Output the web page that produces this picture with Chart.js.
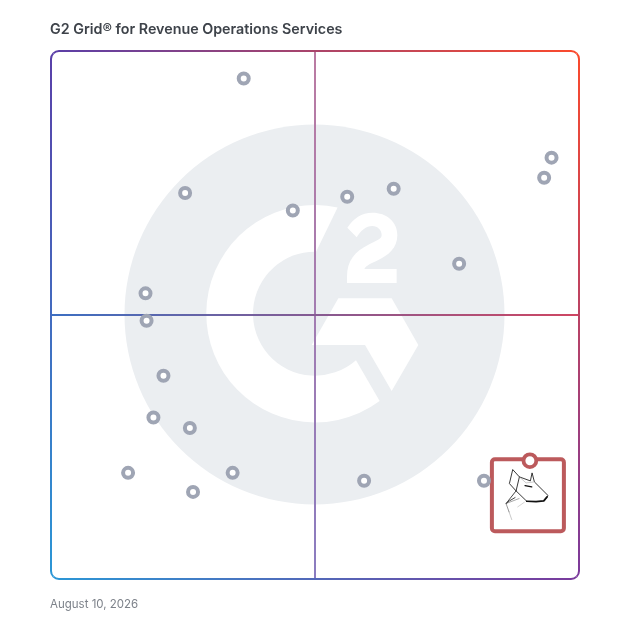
<!DOCTYPE html>
<html>
<head>
<meta charset="utf-8">
<title>G2 Grid</title>
<script src="https://cdn.jsdelivr.net/npm/chart.js@4"></script>
<style>
  html, body { margin: 0; padding: 0; background: #fff; }
  #wrap { position: relative; width: 628px; height: 628px; overflow: hidden; font-family: Inter, sans-serif; }
  #gridChart { position: absolute; left: 0; top: 0; }
  #title { position: absolute; left: 50px; top: 20px; font-size: 14.3px; font-weight: 600; color: #3e434a; white-space: nowrap; }
  #date { position: absolute; left: 50px; top: 597px; font-size: 11.5px; color: #7d828a; white-space: nowrap; }
</style>
</head>
<body>
<div id="wrap">
  <canvas id="gridChart" width="628" height="628"></canvas>
  <div id="title">G2 Grid® for Revenue Operations Services</div>
  <div id="date">August 10, 2026</div>
</div>
<script>
const satisfaction = [36.5, 94.8, 93.4, 64.9, 56.1, 25.4, 45.8, 77.3, 17.9, 18.1, 21.3, 19.4, 26.3, 14.6, 26.9, 34.4, 59.3, 82.0];
const marketPresence = [94.8, 79.8, 76.0, 73.9, 72.4, 73.1, 69.8, 59.7, 54.1, 48.9, 38.5, 30.6, 28.6, 20.1, 16.5, 20.1, 18.6, 18.6];
const highlightX = [90.7];
const highlightY = [22.4];

const GRAY = '#9fa5b4';
const RED = '#bc5a5c';
const WATERMARK = '#ebeef1';

function lineGradient(chart, axis) {
    const a = chart.chartArea;
    if (!a) return 'transparent';
    const g = axis === 'x'
        ? chart.ctx.createLinearGradient(0, a.top, 0, a.bottom)
        : chart.ctx.createLinearGradient(a.left, 0, a.right, 0);
    if (axis === 'x') {
        g.addColorStop(0, '#bb7ba2');
        g.addColorStop(1, '#8a7cc0');
    } else {
        g.addColorStop(0, '#3c6fc2');
        g.addColorStop(1, '#cf4662');
    }
    return g;
}

// G2 logo, path numbers are relative to the middle of the grid
const watermark = {
    id: 'watermark',
    beforeDraw(chart) {
        const { ctx, chartArea: a } = chart;
        const cx = (a.left + a.right) / 2, cy = (a.top + a.bottom) / 2;
        const rad = d => d * Math.PI / 180;
        ctx.save();
        ctx.translate(cx, cy);
        ctx.fillStyle = WATERMARK;
        ctx.beginPath();
        ctx.arc(-0.5, -0.5, 190, 0, Math.PI * 2);
        ctx.fill();

        ctx.fillStyle = '#fff';
        ctx.beginPath();
        ctx.arc(0, -1.3, 108.7, rad(-78), rad(53.5), true);
        ctx.arc(0, -1.3, 62, rad(48.6), rad(-89), false);
        ctx.closePath();
        ctx.fill();

        ctx.scale(1 / 3, 1 / 3);
        ctx.translate(-585, -585);
        ctx.beginPath();
        ctx.moveTo(575, 675); ctx.lineTo(735, 675); ctx.lineTo(815, 813);
        ctx.lineTo(895, 675); ctx.lineTo(815, 535); ctx.lineTo(655, 535);
        ctx.closePath();
        ctx.fill();
        ctx.fill(new Path2D('M682,323 C700,295 725,278 757,278 C800,278 832,305 832,345 C832,385 805,405 775,420 C755,430 738,436 733,447 L830,447 L830,489 L681,489 L681,470 C681,420 705,395 745,374 C770,361 785,358 785,345 C785,330 773,318 757,318 C738,318 722,332 710,352 Z'));
        ctx.restore();
    }
};

// gradient border round the plot
const frame = {
    id: 'frame',
    beforeDatasetsDraw(chart) {
        const { ctx, chartArea: a } = chart;
        const r = 8;
        const tl = '#5a3fa8', tr = '#fb4a2c', bl = '#2b97d6', br = '#7a3a9c';
        const side = (x1, y1, x2, y2, c1, c2, path) => {
            const g = ctx.createLinearGradient(x1, y1, x2, y2);
            g.addColorStop(0, c1);
            g.addColorStop(1, c2);
            ctx.strokeStyle = g;
            ctx.beginPath();
            path();
            ctx.stroke();
        };
        ctx.save();
        ctx.lineWidth = 2;
        ctx.lineCap = 'butt';
        side(a.left, 0, a.right, 0, tl, tr, () => {
            ctx.arc(a.left + r, a.top + r, r, Math.PI * 1.25, Math.PI * 1.5);
            ctx.arc(a.right - r, a.top + r, r, Math.PI * 1.5, Math.PI * 1.75);
        });
        side(0, a.top, 0, a.bottom, tr, br, () => {
            ctx.arc(a.right - r, a.top + r, r, Math.PI * 1.75, 0);
            ctx.arc(a.right - r, a.bottom - r, r, 0, Math.PI * 0.25);
        });
        side(a.left, 0, a.right, 0, bl, br, () => {
            ctx.arc(a.left + r, a.bottom - r, r, Math.PI * 0.75, Math.PI * 0.5, true);
            ctx.arc(a.right - r, a.bottom - r, r, Math.PI * 0.5, Math.PI * 0.25, true);
        });
        side(0, a.top, 0, a.bottom, tl, bl, () => {
            ctx.arc(a.left + r, a.top + r, r, Math.PI * 1.25, Math.PI, true);
            ctx.arc(a.left + r, a.bottom - r, r, Math.PI, Math.PI * 0.75, true);
        });
        ctx.restore();
    }
};

// red box and wolf logo hang off the highlighted point
const highlightBox = {
    id: 'highlightBox',
    beforeDatasetsDraw(chart) {
        const { ctx, scales } = chart;
        const px = scales.x.getPixelForValue(highlightX[0]);
        const py = scales.y.getPixelForValue(highlightY[0]);
        const left = px - 38, top = py - 1.5;
        ctx.save();
        ctx.strokeStyle = RED;
        ctx.lineWidth = 4;
        ctx.beginPath();
        ctx.roundRect(left, top, 72, 72, 3);
        ctx.stroke();

        // wolf, traced in a 65px tile
        ctx.translate(left + 2.5, top + 1);
        ctx.scale(1 / 3, 1 / 3);
        ctx.lineCap = 'round';
        ctx.lineJoin = 'round';
        const draw = (w, color, pts) => {
            ctx.lineWidth = w;
            ctx.strokeStyle = color;
            ctx.beginPath();
            pts.forEach((p, i) => i ? ctx.lineTo(p[0], p[1]) : ctx.moveTo(p[0], p[1]));
            ctx.stroke();
        };
        draw(2.5, '#111', [[65, 92], [45, 70], [55, 28], [75, 50], [108, 62], [113, 38], [120, 65], [161, 106], [150, 122]]);
        draw(2.5, '#111', [[75, 50], [65, 92], [97, 123]]);
        draw(2.5, '#222', [[65, 92], [35, 130], [45, 122], [62, 112]]);
        draw(1.5, '#333', [[35, 130], [44, 155]]);
        draw(1.2, '#777', [[44, 155], [52, 178]]);
        draw(1.5, '#555', [[35, 130], [74, 115]]);
        draw(5, '#111', [[97, 123], [125, 124], [148, 122], [158, 110]]);
        draw(4, '#111', [[92, 76], [112, 80]]);
        draw(1.5, '#999', [[75, 50], [95, 68], [120, 65]]);
        draw(1.5, '#aaa', [[70, 140], [90, 126]]);
        ctx.restore();
    }
};

new Chart(document.getElementById('gridChart'), {
    type: 'scatter',
    data: {
        datasets: [
            {
                label: 'Vendors',
                data: satisfaction.map((x, i) => ({ x: x, y: marketPresence[i] })),
                pointRadius: 5,
                pointBorderWidth: 4,
                pointBackgroundColor: '#fff',
                pointBorderColor: GRAY
            },
            {
                label: 'Highlighted',
                data: highlightX.map((x, i) => ({ x: x, y: highlightY[i] })),
                pointRadius: 6.4,
                pointBorderWidth: 3.8,
                pointBackgroundColor: '#fff',
                pointBorderColor: RED
            }
        ]
    },
    options: {
        responsive: false,
        animation: false,
        layout: { padding: { left: 51, right: 49, top: 51, bottom: 49 } },
        scales: {
            x: {
                min: 0,
                max: 100,
                ticks: { display: false, stepSize: 50 },
                border: { display: false },
                grid: {
                    drawTicks: false,
                    lineWidth: 2,
                    color: c => c.tick && c.tick.value === 50 ? lineGradient(c.chart, 'x') : 'transparent'
                }
            },
            y: {
                min: 0,
                max: 100,
                ticks: { display: false, stepSize: 50 },
                border: { display: false },
                grid: {
                    drawTicks: false,
                    lineWidth: 2,
                    color: c => c.tick && c.tick.value === 50 ? lineGradient(c.chart, 'y') : 'transparent'
                }
            }
        },
        plugins: {
            legend: { display: false },
            tooltip: { enabled: false }
        }
    },
    plugins: [watermark, frame, highlightBox]
});
</script>
</body>
</html>
